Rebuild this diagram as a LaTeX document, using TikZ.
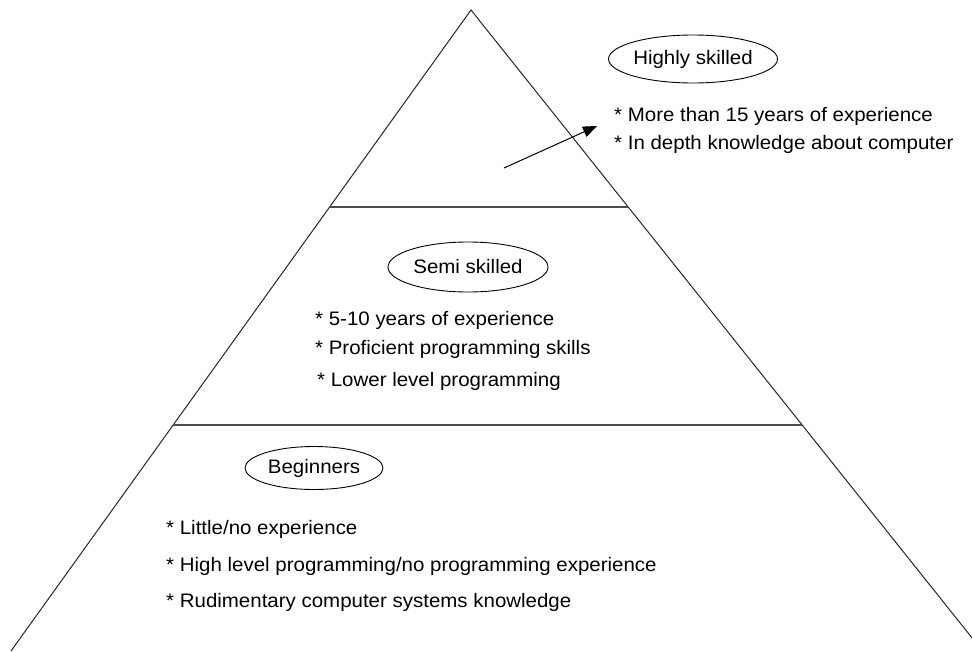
\documentclass[tikz,border=0pt]{standalone}
\usepackage{fontspec}
\setmainfont[FakeStretch=1.05]{Liberation Sans}
\usetikzlibrary{arrows.meta,shapes.geometric}
\begin{document}
\begin{tikzpicture}[x=1pt,y=-1pt,
  side/.style={line width=1pt,black!85},
  tier/.style={line width=1.3pt,black!70},
  level/.style={draw,ellipse,line width=0.9pt,inner sep=0pt,font=\fontsize{19.5}{22}\selectfont},
  item/.style={anchor=west,inner sep=0pt,font=\fontsize{19.5}{22}\selectfont}]
\useasboundingbox (0,0) rectangle (972,651);
\clip (0,0) rectangle (972,651);
% pyramid
\coordinate (apex) at (471,10);
\coordinate (lb) at (11,651);
\coordinate (rb) at (982.5,651);
\coordinate (l1) at (329.6,207);
\coordinate (r1) at (628.2,207);
\coordinate (l2) at (173,425);
\coordinate (r2) at (802,425);
\draw[side] (lb) -- (apex) -- (rb);
\draw[tier] (l1) -- (r1);
\draw[tier] (l2) -- (r2);
% levels
\node[level,minimum width=160pt,minimum height=48pt] (high) at (693,59) {Highly skilled};
\node[level,minimum width=160pt,minimum height=50pt] (semi) at (468,267) {Semi skilled};
\node[level,minimum width=138pt,minimum height=43pt] (beg) at (314,468) {Beginners};
% items
\node[item] (h1) at (614,116) {* More than 15 years of experience};
\node[item] (h2) at (614,144) {* In depth knowledge about computer};
\node[item] (s1) at (315,320) {* 5-10 years of experience};
\node[item] (s2) at (315,349) {* Proficient programming skills};
\node[item] (s3) at (317,381) {* Lower level programming};
\node[item] (b1) at (166,529) {* Little/no experience};
\node[item] (b2) at (166,566) {* High level programming/no programming experience};
\node[item] (b3) at (166,602) {* Rudimentary computer systems knowledge};
% arrow
\coordinate (as) at (504,168);
\coordinate (ae) at (597,126);
\draw[line width=1pt,-{Triangle[length=14pt,width=11pt]}] (as) -- (ae);
\end{tikzpicture}
\end{document}
